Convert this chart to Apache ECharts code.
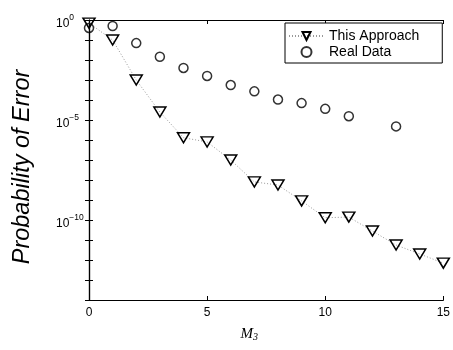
<!DOCTYPE html>
<html>
<head>
<meta charset="utf-8">
<script src="https://cdn.jsdelivr.net/npm/echarts@6/dist/echarts.min.js"></script>
<style>html,body{margin:0;padding:0;background:#fff}#c{width:453px;height:350px}</style>
</head>
<body>
<div id="c"></div>
<script>
var m3Values = [0,1,2,3,4,5,6,7,8,9,10,11,12,13,14,15];
var thisApproach = [7e-1,1e-1,1e-3,2.5e-5,1.3e-6,8e-7,1e-7,8e-9,5.6e-9,9e-10,1.3e-10,1.4e-10,2.8e-11,5.6e-12,2e-12,7e-13];
var realData = [4e-1,5e-1,7e-2,1.45e-2,4e-3,1.6e-3,5.6e-4,2.7e-4,1.05e-4,7e-5,3.6e-5,1.55e-5,null,4.8e-6,null,null];
var xTicks = [0,5,10,15];
var yLabelExps = [0,-5,-10];

var font = 'Liberation Sans, Arial, Helvetica, sans-serif';
function pairs(ys){ var out=[]; for(var i=0;i<m3Values.length;i++){ if(ys[i]!=null) out.push([m3Values[i], ys[i]]); } return out; }

var chart = echarts.init(document.getElementById('c'));
var axisLine = {show:true, lineStyle:{color:'#000', width:1.2}};
var tickIn = {show:true, inside:true, length:4, lineStyle:{color:'#000', width:1}};
chart.setOption({
  animation:false,
  backgroundColor:'#fff',
  grid:{left:89, right:8, top:20, bottom:50},
  legend:{
    orient:'vertical', left:285, top:23,
    padding:[5,23,3,3],
    borderColor:'#000', borderWidth:1, backgroundColor:'#fff',
    itemWidth:35, itemHeight:10, itemGap:0,
    textStyle:{fontFamily:font, fontSize:14, color:'#000', lineHeight:16},
    data:['This Approach','Real Data']
  },
  xAxis:[{
    type:'value', min:0, max:15, interval:5,
    axisLine:axisLine, axisTick:tickIn, splitLine:{show:false},
    axisLabel:{fontFamily:font, fontSize:12, color:'#000', margin:7},
    name:'{m|M}{s|3}', nameLocation:'middle', nameGap:26,
    nameTextStyle:{padding:[0,34,0,0], rich:{
      m:{fontFamily:'Liberation Serif, Times New Roman, serif', fontStyle:'italic', fontSize:15, color:'#000'},
      s:{fontFamily:'Liberation Serif, Times New Roman, serif', fontStyle:'italic', fontSize:10, color:'#000', padding:[6,0,0,0]}
    }}
  },{
    type:'value', min:0, max:15, interval:5, position:'top',
    axisLine:axisLine, axisTick:tickIn, axisLabel:{show:false}, splitLine:{show:false}
  }],
  yAxis:[{
    type:'log', logBase:10, min:1e-14, max:1, interval:1,
    axisLine:axisLine, axisTick:tickIn, splitLine:{show:false}, minorTick:{show:false},
    axisLabel:{
      fontFamily:font, fontSize:12, color:'#000', margin:33, align:'left',
      formatter:function(v){
        var e=Math.round(Math.log10(v));
        if(yLabelExps.indexOf(e)<0) return '';
        return '{b|10}{sup|'+(e<0?'\u2212'+(-e):e)+'}';
      },
      rich:{
        b:{fontFamily:font, fontSize:12, color:'#000', padding:[7,0,0,0]},
        sup:{fontFamily:font, fontSize:8.5, color:'#000', padding:[0,0,5,0]}
      }
    },
    name:'Probability of Error', nameLocation:'middle', nameGap:55,
    nameTextStyle:{fontFamily:font, fontStyle:'italic', fontSize:23.5, color:'#000', padding:[0,0,0,-14]}
  },{
    type:'log', logBase:10, min:1e-14, max:1, interval:1, position:'right',
    axisLine:axisLine, axisTick:tickIn, axisLabel:{show:false}, splitLine:{show:false}
  }],
  series:[{
    name:'This Approach', type:'line', data:pairs(thisApproach),
    symbol:'triangle', symbolRotate:180, symbolSize:[12,10],
    lineStyle:{color:'#999', width:1, type:[1,2]},
    itemStyle:{color:'transparent', borderColor:'#000', borderWidth:1.5},
    z:3
  },{
    name:'Real Data', type:'scatter', data:pairs(realData),
    symbol:'circle', symbolSize:9,
    itemStyle:{color:'transparent', borderColor:'#000', borderWidth:1.5},
    z:4
  }]
});
</script>
</body>
</html>
